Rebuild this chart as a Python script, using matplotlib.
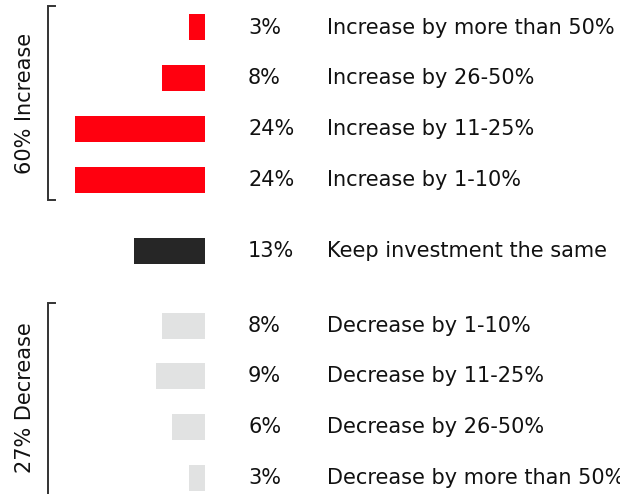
import matplotlib
matplotlib.use("Agg")
import matplotlib.pyplot as plt

plt.rcParams['font.family'] = ['DejaVu Sans']

values = [3, 8, 24, 24, 13, 8, 9, 6, 3]
pct_labels = ["3%", "8%", "24%", "24%", "13%", "8%", "9%", "6%", "3%"]
labels = ["Increase by more than 50%", "Increase by 26-50%", "Increase by 11-25%",
          "Increase by 1-10%", "Keep investment the same", "Decrease by 1-10%",
          "Decrease by 11-25%", "Decrease by 26-50%", "Decrease by more than 50%"]
groups = ["inc", "inc", "inc", "inc", "same", "dec", "dec", "dec", "dec"]
group_labels = {"inc": "60% Increase", "dec": "27% Decrease"}

colors = {"inc": "#FF000F", "same": "#262626", "dec": "#E1E2E2"}

# layout (pixel-like units, y downwards)
ypos = [27.5, 78, 128.5, 179.5, 251, 325.5, 376, 427, 478]
bar_h = 26
scale = 5.43  # px per percent
W, H = 620, 494
x0 = 205

fig = plt.figure(figsize=(W/100, H/100), dpi=100)
ax = fig.add_axes([0, 0, 1, 1])
ax.set_xlim(-x0/scale, (W-x0)/scale)
ax.set_ylim(H, 0)
ax.axis('off')

for v, y, g in zip(values, ypos, groups):
    ax.barh(y, -v, height=bar_h, left=0, color=colors[g], edgecolor='none')

px = lambda p: (p - x0)/scale
for y, p, l in zip(ypos, pct_labels, labels):
    ax.text(px(248), y, p, va='center', ha='left', fontsize=15, color='#111111')
    ax.text(px(327), y, l, va='center', ha='left', fontsize=15, color='#111111')

# brackets
bx = px(48)
tx = px(55)
ax.plot([tx, bx, bx, tx], [6.5, 6.5, 200, 200], color='#333333', lw=1.4, solid_joinstyle='miter')
ax.plot([tx, bx, bx], [302.5, 302.5, 494], color='#333333', lw=1.4, solid_joinstyle='miter')
ax.text(px(25), 103, group_labels["inc"], rotation=90, va='center', ha='center', fontsize=15, color='#111111')
ax.text(px(25), 398, group_labels["dec"], rotation=90, va='center', ha='center', fontsize=15, color='#111111')

fig.savefig("out.png", dpi=100)
